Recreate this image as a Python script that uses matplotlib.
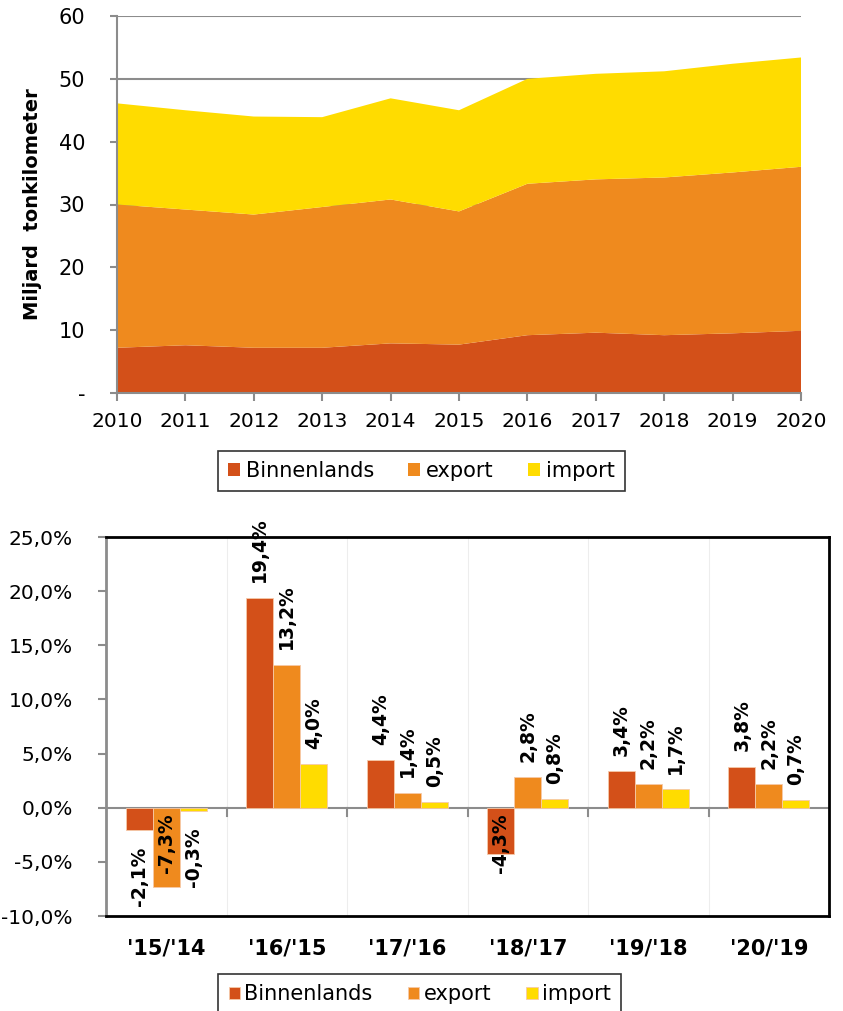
import matplotlib
matplotlib.use("Agg")
import matplotlib.pyplot as plt
import matplotlib.ticker as ticker
import numpy as np

# bovenste grafiek: vervoersprestatie (miljard tonkilometer)
jaren = [2010, 2011, 2012, 2013, 2014, 2015, 2016, 2017, 2018, 2019, 2020]
binnenlands = [7.2, 7.6, 7.2, 7.2, 7.9, 7.7, 9.2, 9.6, 9.2, 9.5, 9.9]
export = [22.8, 21.6, 21.2, 22.4, 22.9, 21.2, 24.1, 24.4, 25.1, 25.6, 26.1]
import_ = [16.1, 15.8, 15.6, 14.3, 16.1, 16.1, 16.7, 16.8, 16.9, 17.3, 17.4]

# onderste grafiek: groei t.o.v. vorig jaar (%)
perioden = ["'15/'14", "'16/'15", "'17/'16", "'18/'17", "'19/'18", "'20/'19"]
groei_binnen = [-2.1, 19.4, 4.4, -4.3, 3.4, 3.8]
groei_export = [-7.3, 13.2, 1.4, 2.8, 2.2, 2.2]
groei_import = [-0.3, 4.0, 0.5, 0.8, 1.7, 0.7]

series = ['Binnenlands', 'export', 'import']
kleuren = ['#D35019', '#EF8A1E', '#FFDC00']
grijs = '#8C8C8C'

plt.rcParams['font.family'] = ['DejaVu Sans']

fig = plt.figure(figsize=(8.43, 10.11), dpi=100)

# ---- bovenste grafiek ----
ax1 = fig.add_axes([117/843, 1-393/1011, 684/843, 377/1011])
ax1.stackplot(jaren, binnenlands, export, import_, colors=kleuren, labels=series, zorder=2)
ax1.set_xlim(2010, 2020)
ax1.set_ylim(0, 60)
ax1.set_xticks(jaren)
ax1.set_yticks(range(0, 61, 10))
ax1.yaxis.set_major_formatter(ticker.FuncFormatter(lambda v, p: '-' if v == 0 else f'{v:.0f}'))
ax1.grid(axis='y', color=grijs, linewidth=1.5, zorder=1)
ax1.set_axisbelow(True)
for s in ['top', 'right']:
    ax1.spines[s].set_visible(False)
for s in ['left', 'bottom']:
    ax1.spines[s].set_color(grijs)
    ax1.spines[s].set_linewidth(1.5)
ax1.tick_params(axis='y', length=5, width=1.5, color=grijs, labelsize=15, pad=18)
ax1.tick_params(axis='x', length=6, width=1.5, color=grijs, labelsize=14.5, pad=8)
ax1.set_ylabel('Miljard  tonkilometer', fontsize=14, fontweight='bold', labelpad=12)
leg1 = ax1.legend(loc='upper left', bbox_to_anchor=(0.132, -0.125, 0.626, 0), mode='expand',
                  ncol=3, fontsize=15, frameon=True, fancybox=False, edgecolor='black',
                  handlelength=0.55, handleheight=0.55, handletextpad=0.3,
                  borderpad=0.5, borderaxespad=0.5)
leg1.get_frame().set_linewidth(1.2)

# ---- onderste grafiek ----
ax2 = fig.add_axes([106/843, 1-916/1011, 723/843, 379/1011])
x = np.arange(len(perioden))
w = 0.224
for i, (vals, kleur, naam) in enumerate(zip([groei_binnen, groei_export, groei_import], kleuren, series)):
    xs = x + (i - 1) * w
    ax2.bar(xs, vals, width=w, color=kleur, edgecolor='#F6C9A8', linewidth=0.6, label=naam, zorder=3)
    for xi, v in zip(xs, vals):
        tekst = f'{v:.1f}%'.replace('.', ',')
        if v >= 0:
            ax2.annotate(tekst, (xi, v), xytext=(0, 11), textcoords='offset points',
                         rotation=90, ha='center', va='bottom', fontsize=13.5, fontweight='bold',
                         zorder=4)
        elif v - 7.6 < -10:
            ax2.annotate(tekst, (xi, 0), xytext=(0, -4), textcoords='offset points',
                         rotation=90, ha='center', va='top', fontsize=13.5, fontweight='bold',
                         zorder=4)
        else:
            ax2.annotate(tekst, (xi, v), xytext=(0, -12), textcoords='offset points',
                         rotation=90, ha='center', va='top', fontsize=13.5, fontweight='bold',
                         zorder=4)

ax2.set_xlim(-0.5, len(perioden) - 0.5)
ax2.set_ylim(-10, 25)
ax2.set_yticks(np.arange(-10, 26, 5))
ax2.yaxis.set_major_formatter(ticker.FuncFormatter(
    lambda v, p: (f'{v:.1f}%'.replace('.', ',') if abs(v) > 1e-9 else '0,0%')))
ax2.set_xticks(x)
ax2.set_xticklabels(perioden, fontsize=15, fontweight='bold')
ax2.tick_params(axis='x', length=0, pad=16)
ax2.tick_params(axis='y', length=6, width=1.5, color=grijs, labelsize=14.5, pad=18)
for grens in np.arange(0.5, len(perioden) - 1, 1):
    ax2.axvline(grens, color='#EDEDED', linewidth=0.8, zorder=1)
    ax2.plot([grens, grens], [0, -0.8], color=grijs, linewidth=1.5, zorder=2)
ax2.axhline(0, color=grijs, linewidth=1.5, zorder=2)
for s in ['top', 'right', 'bottom']:
    ax2.spines[s].set_color('black')
    ax2.spines[s].set_linewidth(2)
ax2.spines['left'].set_color(grijs)
ax2.spines['left'].set_linewidth(2)
leg2 = ax2.legend(loc='upper left', bbox_to_anchor=(0.141, -0.125, 0.586, 0), mode='expand',
                  ncol=3, fontsize=15, frameon=True, fancybox=False, edgecolor='black',
                  handlelength=0.55, handleheight=0.55, handletextpad=0.2,
                  borderpad=0.5, borderaxespad=0.5)
leg2.get_frame().set_linewidth(1.2)

fig.savefig('out.png', dpi=100)
